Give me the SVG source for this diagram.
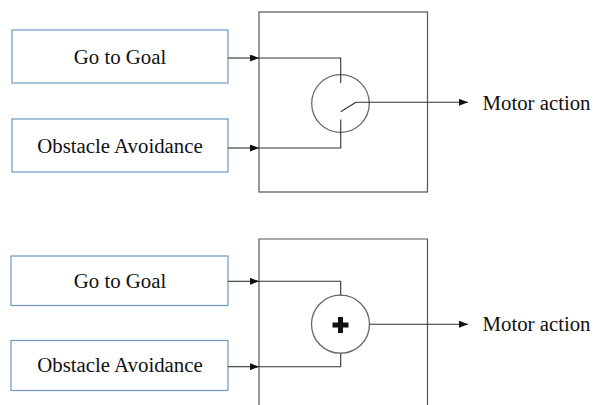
<svg xmlns="http://www.w3.org/2000/svg" width="594" height="405" viewBox="0 0 594 405">
  <style>
    .box { fill: #ffffff; stroke: #7096c4; stroke-width: 1.2; }
    .frame { fill: none; stroke: #555555; stroke-width: 1.2; }
    .wire { fill: none; stroke: #333333; stroke-width: 1.1; }
    .gray { fill: none; stroke: #666666; stroke-width: 1.3; }
    .lbl { font-family: 'Liberation Serif', 'DejaVu Serif', 'Times New Roman', Times, serif; font-size: 20.8px; fill: #111111; }
  </style>
  <defs>
    <marker id="arr" markerWidth="9" markerHeight="7" refX="9" refY="3.5" orient="auto" markerUnits="userSpaceOnUse">
      <path d="M0,0 L9,3.5 L0,7 Z" fill="#111111"/>
    </marker>
  </defs>
  <rect width="594" height="405" fill="#ffffff"/>

  <!-- upper diagram: switching arbitration -->
  <g id="goal-top">
    <rect class="box" x="12" y="30" width="216" height="53"/>
    <text class="lbl" x="120" y="63.5" text-anchor="middle">Go to Goal</text>
  </g>
  <g id="obstacle-top">
    <rect class="box" x="12" y="119" width="216" height="53"/>
    <text class="lbl" x="120" y="153" text-anchor="middle">Obstacle Avoidance</text>
  </g>
  <g id="arbiter-top">
    <rect class="frame" x="259" y="12" width="168.5" height="180"/>
    <circle class="gray" cx="340.5" cy="103.5" r="28.8"/>
  </g>
  <g id="output-top">
    <text class="lbl" x="482.5" y="109.5">Motor action</text>
  </g>

  <!-- lower diagram: summing arbitration -->
  <g id="goal-bottom">
    <rect class="box" x="11" y="256" width="217" height="49.5"/>
    <text class="lbl" x="120" y="288" text-anchor="middle">Go to Goal</text>
  </g>
  <g id="obstacle-bottom">
    <rect class="box" x="11" y="340.5" width="217" height="50"/>
    <text class="lbl" x="120" y="372" text-anchor="middle">Obstacle Avoidance</text>
  </g>
  <g id="arbiter-bottom">
    <path class="frame" d="M259,406 V239 H427.5 V406"/>
    <circle class="gray" cx="340.5" cy="324.2" r="29"/>
    <path d="M338,317 h5 v5.5 h5.5 v5 h-5.5 v5.5 h-5 v-5.5 h-5.5 v-5 h5.5 Z" fill="#111111"/>
  </g>
  <g id="output-bottom">
    <text class="lbl" x="482.5" y="331">Motor action</text>
  </g>

  <g id="connectors">
    <!-- upper -->
    <line class="wire" x1="228" y1="58" x2="259" y2="58" marker-end="url(#arr)"/>
    <line class="wire" x1="228" y1="148" x2="259" y2="148" marker-end="url(#arr)"/>
    <path class="wire" d="M259,58 H340.7 V83"/>
    <path class="wire" d="M259,148 H340.7 V119.5"/>
    <path class="wire" d="M340.7,111.7 L356,102.3"/>
    <line class="wire" x1="356" y1="102.3" x2="468" y2="102.3" marker-end="url(#arr)"/>
    <!-- lower -->
    <line class="wire" x1="228" y1="281.3" x2="259" y2="281.3" marker-end="url(#arr)"/>
    <line class="wire" x1="228" y1="366.7" x2="259" y2="366.7" marker-end="url(#arr)"/>
    <path class="wire" d="M259,281.3 H340.7 V295.2"/>
    <path class="wire" d="M259,366.7 H340.7 V353.2"/>
    <line class="wire" x1="369.5" y1="324.2" x2="468" y2="324.2" marker-end="url(#arr)"/>
  </g>
</svg>
